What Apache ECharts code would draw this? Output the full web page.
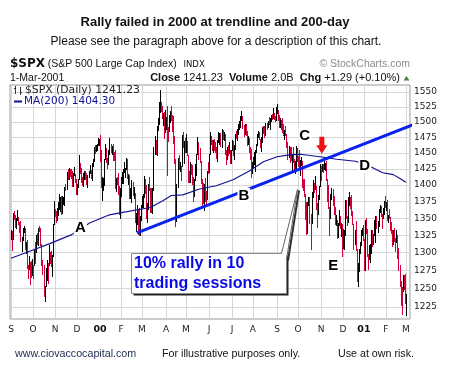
<!DOCTYPE html>
<html><head><meta charset="utf-8">
<script src="https://cdn.jsdelivr.net/npm/echarts@6/dist/echarts.min.js"></script>
<style>html,body{margin:0;padding:0;background:#fff}#c{width:453px;height:374px}</style>
</head><body><div id="c"></div>
<script>
// ---------- DATA ----------
const prevClose = 1320; // close of 31-Aug-1999
const monthLabels = ['S','O','N','D','00','F','M','A','M','J','J','A','S','O','N','D','01','F','M'];
const monthStarts = [0,21,42,63,85,105,125,148,167,189,211,231,254,274,296,317,337,358,377]; // trading-day index of month start
const priceTicks = [1225,1250,1275,1300,1325,1350,1375,1400,1425,1450,1475,1500,1525,1550];

const closes = [
 1331,1319,1357,1350,1344,1348,1352,1344,1336,1318,1318,1335,1336,1308,1311,1280,1277,1283,1282,1268,1283,
 1282,1304,1301,1326,1318,1336,1335,1313,1285,1283,1247,1254,1262,1289,1283,1301,1293,1281,1296,1342,1362,
 1355,1348,1355,1363,1371,1377,1366,1373,1381,1397,1394,1420,1410,1424,1422,1421,1405,1417,1417,1408,1389,
 1397,1409,1433,1424,1409,1404,1408,1417,1416,1404,1413,1418,1421,1418,1433,1437,1458,1457,1458,1463,1464,1469,
 1455,1399,1402,1403,1441,1457,1438,1432,1449,1465,1455,1456,1445,1441,1401,1410,1404,1398,1360,1394,
 1409,1409,1424,1424,1424,1441,1411,1416,1388,1389,1402,1388,1388,1346,1352,1360,1353,1333,1348,1366,
 1379,1381,1409,1391,1356,1366,1401,1395,1383,1359,1392,1458,1464,1456,1493,1501,1522,1527,1524,1507,1508,1488,1499,
 1506,1494,1488,1501,1517,1504,1500,1467,1440,1357,1402,1442,1428,1435,1430,1478,1461,1465,1452,
 1469,1447,1416,1409,1433,1424,1412,1383,1407,1421,1448,1467,1448,1437,1407,1400,1374,1400,1381,1379,1422,1420,
 1449,1477,1468,1457,1471,1461,1457,1446,1469,1470,1479,1465,1487,1478,1480,1453,1441,1456,1450,1454,1443,1455,
 1469,1446,1457,1478,1475,1481,1492,1495,1510,1510,1494,1481,1496,1481,1464,1474,1452,1450,1419,1431,
 1438,1438,1452,1462,1479,1482,1473,1460,1471,1491,1484,1479,1496,1491,1499,1498,1505,1508,1507,1514,1509,1503,1517,
 1520,1507,1492,1503,1494,1489,1482,1485,1481,1465,1444,1459,1451,1449,1449,1440,1427,1427,1458,1437,
 1436,1426,1434,1434,1408,1403,1387,1364,1329,1374,1374,1349,1342,1389,1396,1395,1398,1365,1364,1379,1398,1429,
 1421,1428,1427,1432,1432,1410,1400,1366,1351,1383,1389,1372,1367,1342,1348,1322,1341,1348,1337,1341,1315,
 1315,1325,1377,1352,1344,1370,1381,1371,1360,1341,1312,1323,1305,1264,1274,1305,1315,1329,1335,1320,
 1283,1347,1333,1298,1295,1300,1313,1326,1318,1326,1329,1347,1342,1342,1360,1364,1357,1355,1364,1373,1366,
 1374,1350,1354,1352,1341,1333,1315,1330,1319,1315,1326,1302,1278,1255,1253,1246,1268,1258,1240,
 1241];
const highs = [
 1332,1331,1358,1361,1355,1350,1362,1352,1344,1346,1322,1336,1338,1336,1316,1318,1282,1295,1287,1288,1291,
 1283,1304,1316,1326,1328,1336,1339,1335,1313,1290,1283,1254,1279,1289,1285,1311,1301,1303,1297,1342,1376,
 1363,1360,1365,1374,1387,1381,1384,1383,1382,1397,1402,1420,1424,1426,1424,1425,1421,1418,1428,1417,1410,
 1401,1410,1447,1434,1426,1412,1419,1422,1421,1418,1416,1422,1431,1423,1434,1440,1459,1463,1462,1464,1474,1473,
 1478,1455,1413,1411,1441,1464,1458,1442,1454,1474,1465,1461,1465,1452,1454,1411,1413,1419,1398,1395,
 1412,1420,1425,1435,1427,1442,1441,1417,1416,1395,1408,1404,1397,1388,1358,1370,1364,1365,1354,1369,
 1384,1387,1414,1410,1400,1373,1402,1413,1396,1395,1395,1459,1477,1471,1494,1506,1534,1553,1534,1527,1515,1517,1519,
 1509,1526,1492,1512,1518,1527,1512,1510,1477,1440,1402,1442,1446,1435,1430,1478,1483,1469,1474,
 1481,1469,1447,1421,1435,1433,1431,1412,1410,1433,1448,1475,1467,1458,1437,1410,1403,1401,1411,1391,1422,1435,
 1449,1483,1477,1471,1471,1472,1468,1459,1470,1483,1482,1482,1488,1487,1483,1480,1454,1459,1463,1467,1454,1455,
 1470,1469,1462,1480,1486,1489,1497,1501,1510,1518,1510,1495,1497,1496,1485,1477,1474,1460,1456,1436,
 1443,1451,1455,1464,1480,1486,1484,1473,1475,1491,1493,1493,1499,1499,1502,1509,1507,1511,1513,1523,1515,1510,1525,
 1530,1520,1512,1506,1503,1506,1496,1487,1494,1481,1467,1461,1460,1459,1449,1460,1440,1438,1461,1458,
 1445,1455,1439,1444,1437,1409,1409,1387,1374,1374,1382,1381,1357,1389,1408,1403,1414,1399,1372,1385,1399,1432,
 1429,1433,1433,1438,1434,1437,1410,1400,1366,1387,1396,1394,1384,1367,1355,1348,1343,1362,1353,1343,1341,
 1334,1332,1377,1377,1354,1381,1390,1382,1385,1360,1341,1332,1346,1305,1285,1305,1316,1332,1335,1340,
 1320,1347,1350,1334,1298,1311,1313,1332,1333,1327,1347,1353,1354,1346,1363,1370,1368,1357,1365,1375,1384,
 1374,1377,1355,1363,1352,1345,1333,1333,1336,1321,1332,1326,1307,1283,1260,1252,1268,1268,1270,
 1242];
const lows = [
 1320,1304,1319,1349,1337,1336,1348,1342,1330,1317,1303,1318,1330,1306,1299,1279,1264,1277,1256,1266,1268,
 1265,1282,1286,1301,1313,1311,1331,1311,1282,1270,1240,1233,1254,1262,1258,1283,1286,1281,1267,1296,1342,
 1353,1345,1348,1355,1363,1361,1357,1358,1371,1370,1392,1394,1410,1410,1414,1411,1398,1398,1416,1405,1387,
 1387,1397,1409,1419,1404,1400,1399,1409,1410,1402,1397,1412,1419,1411,1408,1429,1437,1450,1453,1455,1462,1463,
 1438,1397,1377,1392,1400,1441,1435,1427,1432,1449,1451,1448,1439,1439,1396,1391,1401,1387,1356,1350,
 1384,1403,1403,1420,1413,1424,1411,1401,1380,1380,1374,1385,1380,1345,1331,1341,1327,1326,1325,1348,
 1366,1367,1381,1388,1350,1345,1363,1392,1359,1359,1358,1392,1448,1448,1446,1487,1496,1516,1518,1506,1495,1474,1484,
 1489,1416,1469,1486,1500,1503,1486,1466,1434,1339,1346,1397,1425,1422,1407,1430,1460,1434,1452,
 1452,1446,1405,1404,1405,1417,1402,1375,1383,1407,1416,1448,1441,1436,1403,1368,1373,1362,1375,1369,1379,1419,
 1420,1449,1464,1454,1451,1455,1451,1442,1438,1467,1464,1461,1459,1473,1470,1448,1433,1441,1447,1450,1434,1434,
 1454,1446,1440,1457,1474,1470,1480,1489,1491,1504,1490,1477,1481,1478,1463,1464,1452,1440,1413,1419,
 1428,1433,1422,1451,1462,1475,1472,1459,1453,1468,1482,1476,1479,1488,1491,1497,1489,1501,1505,1506,1505,1501,1503,
 1515,1504,1492,1492,1489,1483,1478,1473,1479,1460,1441,1444,1435,1439,1421,1436,1424,1419,1426,1437,
 1429,1425,1416,1431,1397,1393,1383,1349,1327,1329,1370,1343,1305,1343,1382,1389,1394,1363,1337,1356,1379,1398,
 1407,1421,1420,1425,1423,1408,1375,1365,1325,1351,1378,1370,1356,1341,1340,1321,1322,1340,1336,1324,1295,
 1307,1305,1325,1351,1340,1344,1370,1365,1355,1341,1305,1312,1304,1261,1254,1274,1299,1311,1325,1318,
 1276,1275,1329,1295,1277,1291,1287,1299,1310,1313,1325,1316,1336,1330,1339,1359,1353,1335,1350,1356,1366,
 1362,1348,1344,1350,1332,1329,1309,1313,1317,1302,1315,1293,1276,1253,1228,1215,1246,1249,1230,
 1214];

// 200-day moving average: [trading-day index, value]
const maPoints = [[0,1292],[21,1304],[37,1313],[58,1326],[75,1343],[94,1355],[104,1358],[133,1366],[145,1376],
 [153,1384],[164,1385],[180,1394],[196,1399],[212,1408],[228,1422],[241,1436],[254,1444],[266,1447],[276,1448],
 [295,1444],[311,1440],[329,1437],[344,1428],[355,1419],[365,1416],[371,1410.5],[377,1404.3]];
// hand-drawn trendline endpoints [trading-day index, price]
const trendline = [[120.2,1328.4],[421.8,1521.4]];
// annotation anchors [trading-day index, price]
const letterNotes = [['A',66.3,1336.5],['B',222.3,1384],['C',280.5,1477.5],['D',337.8,1429.7],['E',307.7,1281.8]];
const arrowTip = [296.8,1448.6];
const calloutAnchor = [114.6,1300];
const calloutLines = ['10% rally in 10','trading sessions'];

// ---------- CHART ----------
const chart = echarts.init(document.getElementById('c'));
const barData = closes.map((c,i)=>[i, highs[i], lows[i], c, c >= (i ? closes[i-1] : prevClose) ? 1 : 0]);
const AX_FONT = '"DejaVu Sans", Verdana, sans-serif';
const AR = '"Liberation Sans", Arial, sans-serif';

chart.setOption({
  animation:false,
  grid:{left:10, top:85, width:400, height:234, show:true, borderColor:'#9a9a9a', borderWidth:1},
  xAxis:{type:'value', min:-1, max:381,
    axisLine:{show:false}, axisTick:{show:false, customValues:monthStarts},
    splitLine:{show:true, lineStyle:{color:'#d6d6d6', width:1}},
    axisLabel:{customValues:monthStarts, margin:6, fontSize:9, fontFamily:AX_FONT, color:'#222',
      formatter:v=>{const l = monthLabels[monthStarts.indexOf(Math.round(v))] || ''; return (l==='00'||l==='01') ? '{b|'+l+'}' : l;},
      rich:{b:{fontWeight:'bold', fontSize:9.5, fontFamily:AX_FONT, color:'#111'}}}},
  yAxis:{type:'log', logBase:10, min:1209, max:1562, position:'right',
    axisLine:{show:false}, axisTick:{show:false, customValues:priceTicks},
    splitLine:{show:true, lineStyle:{color:'#d6d6d6', width:1}},
    axisLabel:{customValues:priceTicks, margin:4, fontSize:9, fontFamily:AX_FONT, color:'#222',
      formatter:v=>String(Math.round(v))}},
  series:[
    {type:'custom', data:barData, encode:{x:0, y:[1,2]}, z:2,
     renderItem:(params, api)=>{
       const i = api.value(0);
       const t = api.coord([i, api.value(1)]);
       const b = api.coord([i, api.value(2)]);
       const x = Math.round(t[0]) + 0.5;
       return {type:'line', shape:{x1:x, y1:Math.round(t[1]), x2:x, y2:Math.round(b[1])+1},
               style:{stroke: api.value(4) ? '#000000' : '#d4003a', lineWidth:1}};
     }},
    {type:'line', data:maPoints, showSymbol:false, symbol:'none', z:3,
     lineStyle:{color:'#10108f', width:1.1}},
    {type:'line', data:trendline, showSymbol:false, symbol:'none', clip:false, z:4,
     lineStyle:{color:'#0a22f0', width:3}}
  ]
});

function P(x, y){ return chart.convertToPixel({xAxisIndex:0, yAxisIndex:0}, [x, y]); }
function T(x, y, text, font, fill, align, extra){
  return {type:'text', x:x, y:y, z:100, silent:true,
    style:Object.assign({text:text, font:font, fill:fill, align:align||'left', verticalAlign:'middle'}, extra||{})};
}
const g = [];
// header
g.push(T(215, 22, 'Rally failed in 2000 at trendline and 200-day', 'bold 13px '+AR, '#111', 'center'));
g.push(T(216, 42, 'Please see the paragraph above for a description of this chart.', '12px '+AR, '#111', 'center'));
g.push(T(10, 64, '$SPX', 'bold 12px '+AX_FONT, '#111'));
g.push(T(47.7, 64, '(S&P 500 Large Cap Index)', '10.5px '+AR, '#111'));
g.push(T(183.5, 64.5, 'INDX', '8.5px '+AX_FONT, '#111'));
g.push(T(410, 64, '\u00A9 StockCharts.com', '10.5px '+AR, '#8c8c8c', 'right'));
g.push(T(10, 78, '1-Mar-2001', '10.5px '+AR, '#111'));
g.push({type:'text', x:400, y:78, z:100, silent:true, style:{
  text:'{b|Close} 1241.23  {b|Volume} 2.0B  {b|Chg} +1.29 (+0.10%)',
  font:'11px '+AR, fill:'#111', align:'right', verticalAlign:'middle',
  rich:{b:{font:'bold 11px '+AR, fill:'#111'}}}});
g.push({type:'polygon', z:100, silent:true, shape:{points:[[403.5,80.5],[409.5,80.5],[406.5,76]]}, style:{fill:'#3a8a3a'}});
// in-plot legend
const ic = '#333';
g.push({type:'line', z:100, silent:true, shape:{x1:15.5,y1:86,x2:15.5,y2:94}, style:{stroke:ic, lineWidth:1}});
g.push({type:'line', z:100, silent:true, shape:{x1:14,y1:88.5,x2:15.5,y2:88.5}, style:{stroke:ic, lineWidth:1}});
g.push({type:'line', z:100, silent:true, shape:{x1:20.5,y1:87,x2:20.5,y2:95}, style:{stroke:ic, lineWidth:1}});
g.push({type:'line', z:100, silent:true, shape:{x1:20.5,y1:92.5,x2:22,y2:92.5}, style:{stroke:ic, lineWidth:1}});
g.push(T(25, 90.5, '$SPX (Daily) 1241.23', '10.8px '+AX_FONT, '#222'));
g.push({type:'line', z:100, silent:true, shape:{x1:14,y1:101.5,x2:22,y2:101.5}, style:{stroke:'#10108f', lineWidth:2}});
g.push(T(24, 101.5, 'MA(200) 1404.30', '10.5px '+AX_FONT, '#10108f'));
// letters
letterNotes.forEach(n=>{
  const p = P(n[1], n[2]);
  g.push(T(p[0], p[1], n[0], 'bold 15px '+AR, '#000', 'center', {backgroundColor:'#fff', padding:[0,1]}));
});
// red arrow
const at = P(arrowTip[0], arrowTip[1]);
g.push({type:'polygon', z:100, silent:true, shape:{points:[
  [at[0]-2.5,at[1]-17],[at[0]+2.5,at[1]-17],[at[0]+2.5,at[1]-8.5],[at[0]+5.5,at[1]-8.5],
  [at[0],at[1]],[at[0]-5.5,at[1]-8.5],[at[0]-2.5,at[1]-8.5]]}, style:{fill:'#ee1111'}});
// callout box
const ca = P(calloutAnchor[0], calloutAnchor[1]);
const bx = Math.round(ca[0]) + 0.5, by = Math.round(ca[1]) + 0.5, bw = 155, bh = 40;
const tip = [bx+166, by-64], b1 = [bx+150, by], b2 = [bx+bw, by+6];
g.push({type:'rect', z:99, silent:true, shape:{x:bx+2, y:by+2, width:bw, height:bh}, style:{fill:'#222'}});
g.push({type:'polyline', z:99, silent:true, shape:{points:[[tip[0]+1.5,tip[1]+1],[b2[0]+1.5,b2[1]+1]]}, style:{stroke:'#333', lineWidth:2}});
g.push({type:'rect', z:100, silent:true, shape:{x:bx, y:by, width:bw, height:bh}, style:{fill:'#fff', stroke:'#8a8a8a', lineWidth:1}});
g.push({type:'polygon', z:101, silent:true, shape:{points:[[b1[0],by+0.5],tip,[b2[0]-0.5,b2[1]]]}, style:{fill:'#fff'}});
g.push({type:'polyline', z:102, silent:true, shape:{points:[b1, tip, b2]}, style:{stroke:'#666', lineWidth:1, fill:null}});
g.push(T(bx+2.5, by+10.5, calloutLines[0], 'bold 16px '+AR, '#0a0ae6', 'left'));
g.push(T(bx+2.5, by+30, calloutLines[1], 'bold 16px '+AR, '#0a0ae6', 'left'));
// footer
g.push(T(15, 354, 'www.ciovaccocapital.com', '10.7px '+AR, '#1d2b4c'));
g.push(T(162, 354, 'For illustrative purposes only.', '10.7px '+AR, '#111'));
g.push(T(338, 354, 'Use at own risk.', '10.7px '+AR, '#111'));
chart.setOption({graphic:{elements:g}});
</script></body></html>
